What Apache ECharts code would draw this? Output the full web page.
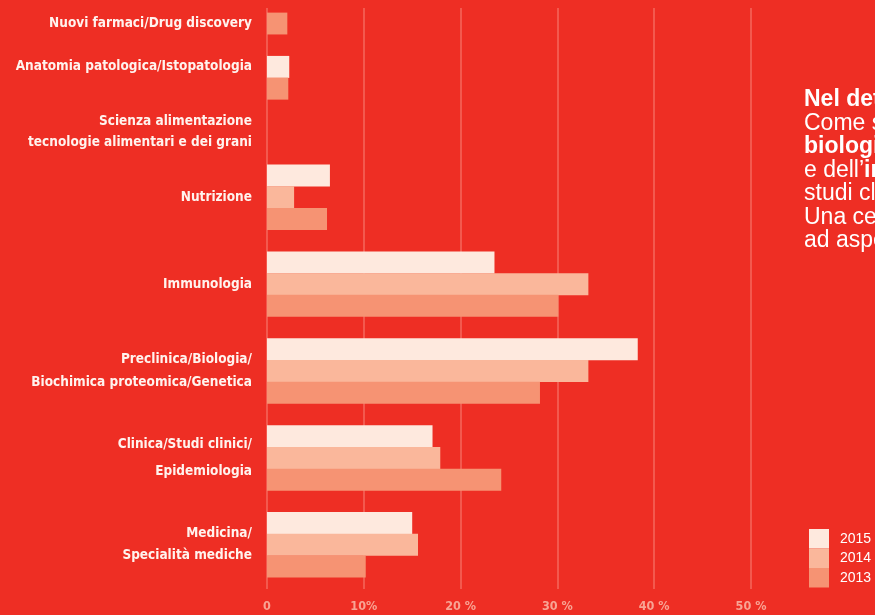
<!DOCTYPE html>
<html>
<head>
<meta charset="utf-8">
<script src="https://cdn.jsdelivr.net/npm/echarts@6/dist/echarts.min.js"></script>
<style>
html, body { margin: 0; padding: 0; background: #ee2e24; overflow: hidden; }
#chart { width: 875px; height: 615px; }
</style>
</head>
<body>
<div id="chart"></div>
<script>
const categories = [
  'Nuovi farmaci/Drug discovery',
  'Anatomia patologica/Istopatologia',
  'Scienza alimentazione\ntecnologie alimentari e dei grani',
  'Nutrizione',
  'Immunologia',
  'Preclinica/Biologia/\nBiochimica proteomica/Genetica',
  'Clinica/Studi clinici/\nEpidemiologia',
  'Medicina/\nSpecialità mediche'
];
const years = ['2015', '2014', '2013'];
const values2015 = [null, 2.3, null, 6.5, 23.5, 38.3, 17.1, 15.0];
const values2014 = [null, null, null, 2.8, 33.2, 33.2, 17.9, 15.6];
const values2013 = [2.1, 2.2, null, 6.2, 30.1, 28.2, 24.2, 10.2];
const tickLabels = ['0', '10%', '20 %', '30 %', '40 %', '50 %'];

const yearColors = { '2015': '#fee9de', '2014': '#fab79b', '2013': '#f69373' };
const narrowFont = '"DejaVu Sans Condensed", "Liberation Sans Narrow", Roboto';
// small tweaks so multi-line labels sit like the original
const labelTweaks = {
  1: { padding: [12, 0, 0, 0] },
  2: { lineHeight: 21.5 },
  5: { lineHeight: 23, padding: [0, 0, 12, 0] },
  6: { lineHeight: 26.5 },
  7: { lineHeight: 22 }
};

// one slot per bar, empty slot between groups
const byYear = { '2015': values2015, '2014': values2014, '2013': values2013 };
const slotItems = [];
const slotText = [];
const slotData = { '2015': [], '2014': [], '2013': [] };
function pushSlot(text, tweak, year, val) {
  const item = { value: 's' + slotItems.length };
  if (tweak) item.textStyle = tweak;
  slotItems.push(item);
  slotText.push(text);
  years.forEach(y => slotData[y].push(y === year ? val : null));
}
categories.forEach((cat, i) => {
  if (i > 0) pushSlot('', null, null, null);
  const present = years.filter(y => byYear[y][i] != null);
  if (!present.length) {
    pushSlot(cat, labelTweaks[i], null, null);
    return;
  }
  const mid = Math.floor((present.length - 1) / 2);
  present.forEach((y, k) => {
    pushSlot(k === mid ? cat : '', k === mid ? labelTweaks[i] : null, y, byYear[y][i]);
  });
});

const chart = echarts.init(document.getElementById('chart'));
const option = {
  backgroundColor: '#ee2e24',
  animation: false,
  grid: [
    { left: 267, right: 124, top: 12.6, bottom: 37.6, outerBoundsMode: 'none' },
    { left: 267, right: 124, top: 8, bottom: 26, outerBoundsMode: 'none' }
  ],
  xAxis: [
    { type: 'value', gridIndex: 0, min: 0, max: 50, show: false },
    {
      type: 'value', gridIndex: 1, min: 0, max: 50, interval: 10,
      axisLine: { show: false },
      axisTick: { show: false },
      splitLine: { lineStyle: { color: '#f4695d', width: 1.5 } },
      axisLabel: {
        margin: 11,
        color: '#f8a494',
        fontFamily: narrowFont,
        fontWeight: 'bold',
        fontSize: 12.5,
        formatter: v => tickLabels[Math.round(v / 10)]
      }
    }
  ],
  yAxis: [
    {
      type: 'category', gridIndex: 0, inverse: true,
      data: slotItems,
      axisLine: { show: false },
      axisTick: { show: false },
      axisLabel: {
        interval: 0,
        margin: 15,
        color: '#fff3ee',
        fontFamily: narrowFont,
        fontWeight: 'bold',
        fontSize: 13.5,
        lineHeight: 22,
        formatter: (v, idx) => slotText[idx]
      }
    },
    { type: 'value', gridIndex: 1, show: false }
  ],
  legend: {
    data: years,
    orient: 'vertical',
    left: 809,
    top: 529,
    padding: 0,
    itemWidth: 20,
    itemHeight: 19.5,
    itemGap: 0,
    icon: 'rect',
    selectedMode: false,
    textStyle: {
      color: '#ffffff',
      fontFamily: 'Liberation Sans',
      fontSize: 14,
      padding: [0, 0, 0, 6]
    }
  },
  graphic: [{
    type: 'text',
    left: 804,
    top: 88,
    silent: true,
    style: {
      text: '{b|Nel dettaglio}\nCome si vede\n{b|biologia}\ne dell’{b|immunologia}\nstudi clinici\nUna certa\nad aspetti',
      fill: '#ffffff',
      font: '23px "Liberation Sans"',
      lineHeight: 23.5,
      rich: {
        b: { fontWeight: 'bold', fontSize: 23, fontFamily: 'Liberation Sans', fill: '#ffffff', lineHeight: 23.5 }
      }
    }
  }],
  series: years.map(y => ({
    name: y,
    type: 'bar',
    xAxisIndex: 0,
    yAxisIndex: 0,
    barWidth: 22,
    barGap: '-100%',
    itemStyle: { color: yearColors[y] },
    silent: true,
    data: slotData[y]
  }))
};
chart.setOption(option);
</script>
</body>
</html>
